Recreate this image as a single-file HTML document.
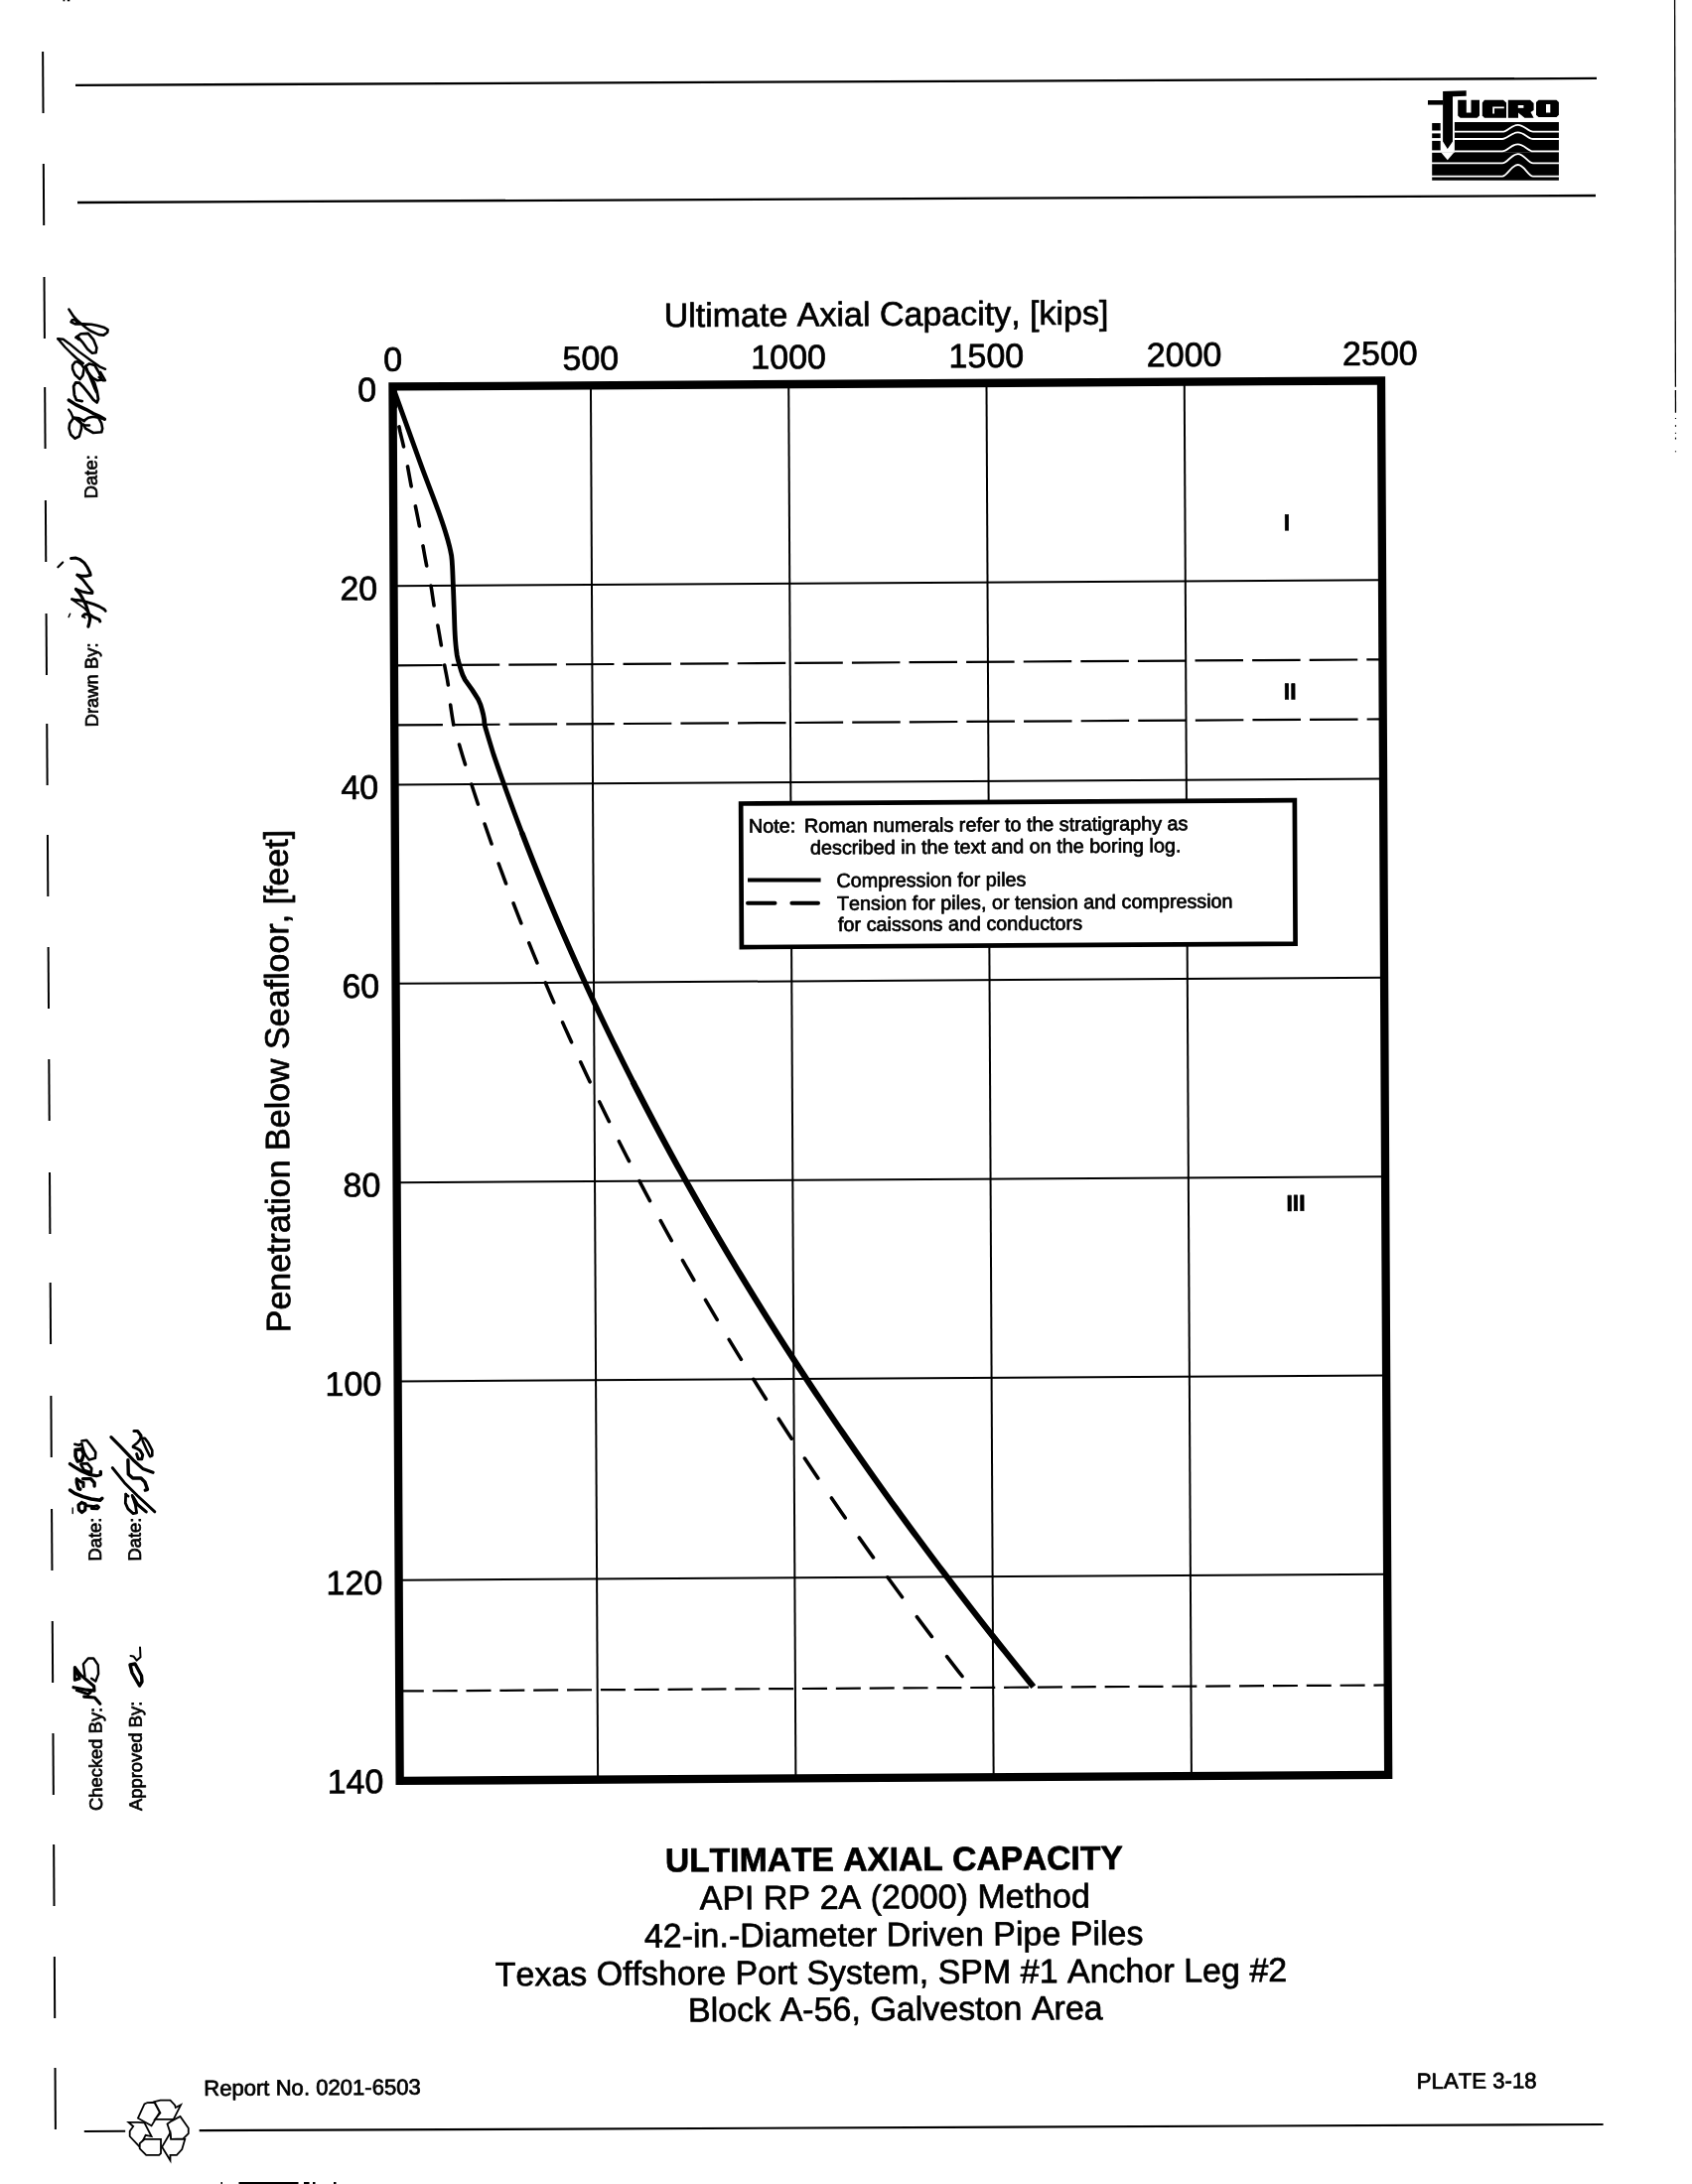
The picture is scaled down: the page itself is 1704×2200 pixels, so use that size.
<!DOCTYPE html>
<html><head><meta charset="utf-8"><title>Ultimate Axial Capacity - Plate 3-18</title>
<style>html,body{margin:0;padding:0;background:#fff;width:1704px;height:2200px;overflow:hidden}svg{display:block;will-change:transform;font-family:"Liberation Sans",sans-serif} text{stroke:#000;stroke-width:0.7px;stroke-linejoin:round;font-kerning:none;font-feature-settings:"kern" 0}</style></head><body>
<svg width="1704" height="2200" viewBox="0 0 1704 2200">
<rect x="0" y="0" width="1704" height="2200" fill="#fff"/>
<g stroke="#000" fill="none" stroke-linecap="butt">
<line x1="76" y1="85.8" x2="1608" y2="78.9" stroke-width="2.3"/>
<line x1="78" y1="204" x2="1607" y2="197" stroke-width="2.3"/>
<line x1="1686.6" y1="0" x2="1687.4" y2="389.7" stroke-width="1.3"/>
<line x1="1687.4" y1="393" x2="1687.5" y2="415.8" stroke-width="1.3"/>
<rect x="1686.9" y="421" width="1.2" height="1" fill="#000" stroke="none"/>
<rect x="1686.9" y="428.2" width="1.2" height="1.6" fill="#000" stroke="none"/>
<rect x="1686.9" y="435.8" width="1.2" height="1" fill="#000" stroke="none"/>
<rect x="1686.9" y="440.7" width="1.2" height="1.8" fill="#000" stroke="none"/>
<rect x="1686.9" y="454.3" width="1.2" height="1" fill="#000" stroke="none"/>
<line x1="84.8" y1="2147" x2="126.2" y2="2146.8" stroke-width="2"/>
<line x1="200.7" y1="2146.2" x2="1614.6" y2="2140" stroke-width="2.2"/>
</g>
<rect x="63.5" y="0" width="1.8" height="1.3" fill="#000"/>
<rect x="67.8" y="0" width="2.5" height="1.3" fill="#000"/>
<rect x="222.5" y="2198" width="1.5" height="2" fill="#000"/>
<rect x="240.5" y="2198" width="60" height="2" fill="#000"/>
<rect x="306" y="2198" width="5.5" height="2" fill="#000"/>
<rect x="315" y="2198" width="2.5" height="2" fill="#000"/>
<rect x="336" y="2198" width="2.5" height="2" fill="#000"/>
<g stroke="#000" stroke-width="2" fill="none">
<line x1="43.13" y1="52" x2="43.51" y2="114"/>
<line x1="43.82" y1="165" x2="44.2" y2="227"/>
<line x1="44.51" y1="279" x2="44.89" y2="341"/>
<line x1="45.19" y1="390" x2="45.57" y2="452"/>
<line x1="45.89" y1="504" x2="46.26" y2="566"/>
<line x1="46.58" y1="618" x2="46.96" y2="680"/>
<line x1="47.26" y1="729" x2="47.64" y2="791"/>
<line x1="47.94" y1="841" x2="48.32" y2="903"/>
<line x1="48.63" y1="954" x2="49.01" y2="1016"/>
<line x1="49.32" y1="1067" x2="49.7" y2="1129"/>
<line x1="50.02" y1="1181" x2="50.39" y2="1243"/>
<line x1="50.69" y1="1292" x2="51.07" y2="1354"/>
<line x1="51.39" y1="1406" x2="51.77" y2="1468"/>
<line x1="52.08" y1="1520" x2="52.46" y2="1582"/>
<line x1="52.77" y1="1633" x2="53.15" y2="1695"/>
<line x1="53.46" y1="1746" x2="53.84" y2="1808"/>
<line x1="54.15" y1="1858" x2="54.52" y2="1920"/>
<line x1="54.84" y1="1971" x2="55.21" y2="2033"/>
<line x1="55.52" y1="2083" x2="55.9" y2="2145"/>
</g>
<text x="0" y="0" font-size="18.4" transform="translate(98.8 732.31) rotate(-90.32)">Drawn By:</text>
<text x="0" y="0" font-size="18.4" transform="translate(97.9 502.21) rotate(-90.32)">Date:</text>
<text x="0" y="0" font-size="18.4" transform="translate(103 1824.03) rotate(-90.32)">Checked By:</text>
<text x="0" y="0" font-size="18.4" transform="translate(102 1572.51) rotate(-90.32)">Date:</text>
<text x="0" y="0" font-size="18.4" transform="translate(143.1 1824.04) rotate(-90.32)">Approved By:</text>
<text x="0" y="0" font-size="18.4" transform="translate(141.9 1572.51) rotate(-90.32)">Date:</text>
<g stroke="#000" fill="none" stroke-linecap="round" stroke-linejoin="round">
<path stroke-width="2.2" d="M58.4 571.3 L63.2 566.5"/>
<path stroke-width="3.0" d="M71.5 562.4 L76.5 562.1 L80.7 563.7 L84.8 566.9 L88 571.5 L90.7 577 L91.2 579.3 L87.1 580.2 L82 580.2 L77.9 579.1"/>
<path stroke-width="2.8" d="M77.9 579.3 L83.4 583.9 L88 589.9 L93 595.8 L93 597.6 L88 597.2 L82.5 595.8 L76.5 593.5"/>
<path stroke-width="3.2" d="M76.5 593.5 L80.7 598.6 L83.4 603.1 L86.6 609.6 L88.9 616.4 L90.7 623.3 L89.8 627.9 L88.9 631.1"/>
<path stroke-width="2.8" d="M72.4 603.6 L77 604.5 L81.6 605 L87.1 606.3 L94.4 608.6 L99.9 610.9 L104.9 613.7 L106.3 615.5"/>
<path stroke-width="2.0" d="M72.4 603.6 L78.8 608.2 L85.2 612.8 L88.9 616.9"/>
<path stroke-width="3.0" d="M83.4 620.6 L85.2 618.7 L89.8 618.7 L93.9 621.5 L99.9 624.2 L100.8 626"/>
<path stroke-width="1.8" d="M83.4 620.6 L85.6 622.4"/>
<path stroke-width="1.6" d="M69.2 621.5 L70.6 618.3"/>
<path stroke-width="2.6" d="M69.4 311.6 L74 318.6 L78.1 323.1 L82.2 326.4 L87.1 330.5 L92.1 333.8 L99.5 337.1 L104.4 337.6 L108.2 334.7 L108.6 332.2 L104.4 329.7 L98.3 328.1 L92.1 326.8 L83.8 326.4 L75.6 326.4 L71.5 324.4 L72.7 322.3 L75.6 322.3 L78.1 324.8"/>
<path stroke-width="2.6" d="M76.4 340 L81.4 336.3 L88.8 335.9 L94.1 342.1 L97.4 350.3 L96.6 355.3 L92.9 355.7 L88 351.6 L83 344.6 L79.7 340.8 L76.4 340"/>
<path stroke-width="3.5" d="M77.5 339.5 L79.5 341.5"/>
<path stroke-width="2.4" d="M58.3 341.3 L63.7 341.7 L69.8 346.2 L79.7 354.4 L92.1 363.5 L100.3 369.3 L106.1 371.8"/>
<path stroke-width="2.4" d="M58.3 341.3 L65.3 349.5 L72.3 356.5 L77.2 361 L83.8 366"/>
<path stroke-width="2.6" d="M75.6 364.7 L73.1 368 L73.1 371.7 L75.6 377.5 L80.5 382 L83.4 378.3 L84.7 370.9 L81.8 366.8 L78.1 364.3 L75.6 364.7"/>
<path stroke-width="2.6" d="M86.3 368.9 L90 366.4 L95.4 368 L99.5 375 L102.8 382.5 L98.3 383.3 L93.7 380.8 L88 375 L86.3 368.9"/>
<path stroke-width="2.6" d="M86.3 368.9 L92.1 383.3 L95.4 391.5 L97 395"/>
<path stroke-width="2.2" d="M101.1 374.6 L104.4 380.4 L106.1 383.3 L103.6 383.3 L99.5 380"/>
<path stroke-width="2.8" d="M82.7 404.1 L77 403 L74.9 398 L74.1 389.2 L76.3 385.3 L79.8 385.6 L83.4 389.2 L88.7 395.6 L94 402.7 L97.6 405.5 L99 402 L97.6 393.8 L95.1 385.6 L92.2 380.3 L88.7 375"/>
<path stroke-width="3.4" d="M69.2 403 L76.3 407.6 L86.9 412.6 L94 416.5 L99.7 419 L105.4 422.2"/>
<path stroke-width="2.4" d="M69.2 412.6 L71.3 415.4 L73.4 420.4"/>
<path stroke-width="2.6" d="M73.8 421.5 L70.2 426.4 L69.5 431.7 L71.3 437.8 L75.6 441.7 L79.8 439.5 L82 431.7 L82 426.4 L78.4 421.5 L73.8 421.5"/>
<path stroke-width="2.6" d="M84.4 423.9 L89 420.7 L94 419.7 L99 420.7 L102.2 426.4 L103.2 431.7 L102.2 435.3 L94 436 L86.2 431.7 L84.1 427.5"/>
<path stroke-width="2.4" d="M76.3 422.2 L83.4 428.2 L90.1 428.5"/>
<path stroke-width="2.6" d="M73.8 420.5 L79.8 421.3 L85 424.2"/>
<path stroke-width="2.4" d="M100 420.8 L105.5 422.3"/>
<path stroke-width="3" d="M75.3 1679.6 L75.3 1692.3 L80.2 1690.7 Z"/>
<path stroke-width="3.2" d="M75.7 1680 L81.4 1687.4 L94.6 1698.5 L95 1703.1 L87.2 1702.2 L74 1699.7"/>
<path stroke-width="3" d="M77.3 1702.7 L88.8 1706.7 L91.3 1704.3"/>
<path stroke-width="3.2" d="M84.7 1709.2 L95.4 1710 L100.8 1716.2"/>
<path stroke-width="2.4" d="M85.5 1688.6 L83.9 1676.3 L88.8 1670.5 L94.2 1670.5 L98.7 1677.1 L99.1 1686.1 L96.3 1693.6 L92.1 1690.7"/>
<path stroke-width="3.2" d="M82.3 1513.5 L86 1515 L85.8 1521 L82.5 1523.5 L79.5 1521 L79 1516 L82.3 1513.5"/>
<path stroke-width="2.8" d="M87.2 1516.6 L93.8 1517.5 L98 1516.6 L99.6 1518.3 L98 1519.9 L92.2 1519.5"/>
<path stroke-width="1.4" d="M73.2 1519 L73.2 1524.5"/>
<path stroke-width="3.4" d="M70.4 1501 L75.3 1504.3 L83.5 1507.6 L91.8 1510 L100.8 1511.3 L102.9 1509.2"/>
<path stroke-width="3.6" d="M77.4 1490 L77.4 1493.6 L79 1499.3 L80.7 1500.2"/>
<path stroke-width="3.2" d="M77.4 1490 L81.5 1492.7 L84 1493.6 L84 1497.5"/>
<path stroke-width="3.4" d="M83.5 1489.6 L91.4 1489.6 L95.1 1493.6 L95.1 1497"/>
<path stroke-width="3.4" d="M70.4 1474.6 L75.3 1477.9 L82.3 1482 L89.7 1485.3 L97.1 1486.6 L101.3 1485.3 L101.3 1482.4"/>
<path stroke-width="2.8" d="M81.5 1474.6 L88.1 1474.2 L92.2 1479.1 L91.8 1483.3 L84.8 1481.2 L81.5 1475.4"/>
<path stroke-width="3.6" d="M76.1 1460.6 L82.3 1459.8 L84.4 1464.7 L82.3 1471.3 L78.2 1472.1 L76.1 1466.8 L76.1 1460.6"/>
<path stroke-width="2.6" d="M82.3 1451.5 L87.2 1450.7 L91.8 1456.5 L96.3 1463.1 L95.9 1468.8 L89.7 1470.5 L86.8 1466.8 L84.8 1463.1 L82.3 1454.4"/>
<path stroke-width="2.6" d="M75.3 1454.8 L79.4 1455.7 L82.3 1454.4"/>
<path stroke-width="3.4" d="M131 1677 L136 1676 L142.5 1688 L143 1694 L140.5 1698 L133 1685 Z"/>
<path stroke-width="2" d="M131.5 1667.9 L134.4 1668.4 L137.7 1672.6 L141.5 1669.3 L141 1659.4"/>
<path stroke-width="2.8" d="M126.7 1505.1 L126.3 1514.2 L128.9 1519.9 L134.1 1524.6 L137.6 1523.8 L136.3 1515.5 L134.1 1509 L133.2 1506.4"/>
<path stroke-width="3.2" d="M134.1 1508.1 L138.5 1515.5 L147.2 1522.9"/>
<path stroke-width="2.4" d="M126.7 1505.1 L129.3 1507.2"/>
<path stroke-width="2.8" d="M113.2 1478.5 L125.4 1493.7 L138.5 1506.8 L155.9 1522.9"/>
<path stroke-width="3.4" d="M128.9 1470.7 L129.3 1485 L133.7 1489 L142 1489 L145.9 1492.9 L148.5 1500.3 L146.3 1501.1"/>
<path stroke-width="3.2" d="M111.9 1447.6 L121.1 1456.8 L134.1 1470.7 L143.7 1479.4 L154.1 1483.3"/>
<path stroke-width="3.0" d="M137.6 1464.6 L139.3 1469.8 L142.8 1469.8 L143.7 1465.5 L141.1 1461.1 L138.5 1459.4 L134.1 1457.6"/>
<path stroke-width="2.6" d="M134.1 1456.8 L138.5 1453.3 L141.9 1448.9 L145.9 1448.9 L149.3 1453.3 L153.3 1461.1 L153.3 1466.3 L151.1 1467.2 L147.2 1459.4 L143.7 1451.5"/>
<path stroke-width="3.2" d="M135 1441.5 L138.5 1441.5 L141.9 1445.9 L141.9 1448.9"/>
</g>
<g id="logo">
<rect x="1464.9" y="123" width="105" height="30.8" fill="#000"/>
<rect x="1442.2" y="153.8" width="127.7" height="27.9" fill="#000"/>
<rect x="1442.2" y="124" width="8.5" height="7.5" fill="#000"/>
<rect x="1442.2" y="134.4" width="8.5" height="4.7" fill="#000"/>
<rect x="1442.2" y="141.9" width="8.5" height="9.5" fill="#000"/>
<path d="M1451.2 153.6 L1457.8 161.3 L1464.4 153.6 Z" fill="#fff"/>
<path d="M1464.9 132.7 L1513 132.7 C1518 132.7 1522 125.9 1528.7 125.9 C1535 125.9 1539 132.7 1544 132.7 L1571 132.7" stroke="#fff" stroke-width="1.8" fill="none"/>
<path d="M1464.9 140.0 L1513 140.0 C1518 140.0 1522 133.4 1528.7 133.4 C1535 133.4 1539 140.0 1544 140.0 L1571 140.0" stroke="#fff" stroke-width="1.8" fill="none"/>
<path d="M1464.9 152.4 L1513 152.4 C1518 152.4 1522 145.3 1528.7 145.3 C1535 145.3 1539 152.4 1544 152.4 L1571 152.4" stroke="#fff" stroke-width="1.8" fill="none"/>
<path d="M1441 164.4 L1513 164.4 C1518 164.4 1522 155.1 1528.7 155.1 C1535 155.1 1539 164.4 1544 164.4 L1571 164.4" stroke="#fff" stroke-width="1.8" fill="none"/>
<path d="M1441 177.6 L1513 177.6 C1518 177.6 1522 166 1528.7 166 C1535 166 1539 177.6 1544 177.6 L1571 177.6" stroke="#fff" stroke-width="1.8" fill="none"/>
<path d="M1453.1 92 L1476.7 91.3 L1476.7 96.8 L1463 97.2 L1463 142.4 L1457.8 150 L1453.1 142.4 Z" fill="#000"/>
<rect x="1438" y="101" width="15.5" height="4.6" fill="#000"/>
<path d="M1468.2 100.8 L1476.8 100.8 L1476.8 113.5 L1481.5 113.5 L1481.5 100.8 L1490 100.8 L1490 116.5 L1487.5 118.8 L1470.7 118.8 L1468.2 116.5 Z" fill="#000"/>
<path d="M1495 100.8 L1514 100.8 L1517 103.5 L1517 118.8 L1495 118.8 L1492.8 116.5 L1492.8 103.5 Z" fill="#000"/>
<path d="M1503.2 107.5 L1514.8 107.5 L1514.8 109.2 L1505 109.2 L1505 114.5 L1503.2 114.5 Z" fill="#fff"/>
<path d="M1518.8 100.8 L1541 100.8 L1544.6 104 L1544.6 111 L1541.5 113 L1544.6 118.8 L1535.5 118.8 L1529 113.5 L1529 118.8 L1518.8 118.8 Z" fill="#000"/>
<rect x="1528.8" y="106" width="5.6" height="2.8" fill="#fff"/>
<path d="M1549.5 100.8 L1567.5 100.8 L1569.9 103 L1569.9 115.8 L1567.5 118 L1549.5 118 L1547 115.8 L1547 103 Z" fill="#000"/>
<rect x="1557" y="105" width="4.3" height="8.5" fill="#fff"/>
</g>
<g transform="matrix(1 -0.006 0.0051 1 395.7 389.87)">
<g stroke="#000" stroke-width="2" fill="none">
<line x1="199.26" y1="0" x2="199.26" y2="1402.2"/>
<line x1="398.53" y1="0" x2="398.53" y2="1402.2"/>
<line x1="597.79" y1="0" x2="597.79" y2="1402.2"/>
<line x1="797.06" y1="0" x2="797.06" y2="1402.2"/>
<line x1="0" y1="200.31" x2="994.3" y2="200.31"/>
<line x1="0" y1="400.63" x2="994.3" y2="400.63"/>
<line x1="0" y1="600.94" x2="994.3" y2="600.94"/>
<line x1="0" y1="801.26" x2="994.3" y2="801.26"/>
<line x1="0" y1="1001.57" x2="994.3" y2="1001.57"/>
<line x1="0" y1="1201.88" x2="994.3" y2="1201.88"/>
</g>
<g stroke="#000" stroke-width="2.2" fill="none">
<line x1="0" y1="280.44" x2="994.3" y2="280.44" stroke-dasharray="48.5 9.1"/>
<line x1="0" y1="340.53" x2="994.3" y2="340.53" stroke-dasharray="48.5 9.1"/>
<line x1="0" y1="1313.56" x2="994.3" y2="1313.56" stroke-dasharray="25 8.85" stroke-dashoffset="0.6"/>
</g>
<rect x="348.3" y="421.7" width="557.7" height="144.6" fill="#fff" stroke="#000" stroke-width="4.7"/>
<polyline points="0,0 1.78,5.01 3.55,10.02 5.33,15.02 7.11,20.03 8.88,25.04 10.66,30.05 12.44,35.05 14.21,40.06 15.99,45.07 17.76,50.08 19.54,55.09 21.32,60.09 23.09,65.1 24.87,70.11 26.65,75.12 28.44,80.13 30.27,85.13 32.13,90.14 34,95.15 35.87,100.16 37.75,105.16 39.62,110.17 41.48,115.18 43.3,120.19 45.1,125.2 46.85,130.2 48.56,135.21 50.21,140.22 51.79,145.23 53.29,150.24 54.73,155.24 56.02,160.25 57.13,165.26 58.11,170.27 58.61,175.27 58.91,180.28 59.14,185.29 59.32,190.3 59.48,195.31 59.66,200.31 59.84,205.32 60.01,210.33 60.16,215.34 60.32,220.35 60.47,225.35 60.62,230.36 60.75,235.37 60.88,240.38 61.05,245.38 61.28,250.39 61.59,255.4 62,260.41 62.51,265.42 63.14,270.42 64.21,275.43 65.58,280.44 67.02,285.45 68.75,290.46 71.16,295.46 74.7,300.47 78.24,305.48 81.43,310.49 84.47,315.49 86.62,320.5 88.07,325.51 89.31,330.52 90.19,335.53 90.52,340.53 91.97,345.54 93.43,350.55 94.91,355.56 96.4,360.57 97.9,365.57 99.41,370.58 101.1,375.59 102.81,380.6 104.53,385.6 106.26,390.61 108.01,395.62 109.77,400.63 111.53,405.64 113.32,410.64 115.11,415.65 116.92,420.66 118.74,425.67 120.57,430.68 122.42,435.68 124.27,440.69 126.14,445.7 128.02,450.71" fill="none" stroke="#000" stroke-width="4.8" stroke-linejoin="round" stroke-linecap="round"/>
<polyline points="128.02,450.71 129.92,455.71 131.83,460.72 133.75,465.73 135.68,470.74 137.62,475.75 139.58,480.75 141.55,485.76 143.53,490.77 145.53,495.78 147.53,500.79 149.55,505.79 151.58,510.8 153.63,515.81 155.69,520.82 157.75,525.82 159.84,530.83 161.93,535.84 164.04,540.85 166.16,545.86 168.29,550.86 170.43,555.87 172.59,560.88 174.76,565.89 176.94,570.89 179.14,575.9 181.34,580.91 183.56,585.92 185.79,590.93 188.04,595.93 190.3,600.94 192.56,605.95 194.85,610.96 197.14,615.97 199.45,620.97 201.77,625.98 204.1,630.99 206.44,636 208.8,641 211.17,646.01 213.55,651.02 215.95,656.03 218.35,661.04 220.77,666.04 223.2,671.05 225.65,676.06 228.1,681.07 230.57,686.08 233.05,691.08 235.55,696.09 238.06,701.1" fill="none" stroke="#000" stroke-width="5.5" stroke-linejoin="round" stroke-linecap="round"/>
<polyline points="238.06,701.1 240.57,706.11 243.11,711.11 245.65,716.12 248.21,721.13 250.78,726.14 253.36,731.15 255.95,736.15 258.56,741.16 261.18,746.17 263.81,751.18 266.45,756.19 269.11,761.19 271.78,766.2 274.46,771.21 277.15,776.22 279.86,781.22 282.58,786.23 285.31,791.24 288.05,796.25 290.81,801.26 293.58,806.26 296.36,811.27 299.16,816.28 301.96,821.29 304.78,826.3 307.61,831.3 310.46,836.31 313.31,841.32 316.18,846.33 319.06,851.33 321.96,856.34 324.86,861.35 327.78,866.36 330.71,871.37 333.66,876.37 336.61,881.38 339.58,886.39 342.56,891.4 345.56,896.41 348.56,901.41 351.58,906.42 354.61,911.43 357.66,916.44 360.71,921.44 363.78,926.45 366.86,931.46 369.96,936.47 373.06,941.48 376.18,946.48 379.31,951.49 382.46,956.5 385.61,961.51 388.78,966.52 391.96,971.52 395.16,976.53 398.36,981.54 401.58,986.55 404.81,991.55 408.06,996.56 411.31,1001.57 414.58,1006.58 417.86,1011.59 421.16,1016.59 424.46,1021.6 427.78,1026.61 431.11,1031.62 434.45,1036.62 437.81,1041.63 441.18,1046.64 444.56,1051.65 447.95,1056.66 451.36,1061.66 454.78,1066.67 458.21,1071.68 461.65,1076.69 465.11,1081.7 468.58,1086.7 472.06,1091.71 475.55,1096.72 479.06,1101.73 482.58,1106.73 486.11,1111.74 489.65,1116.75 493.21,1121.76 496.77,1126.77 500.35,1131.77 503.95,1136.78 507.55,1141.79 511.17,1146.8 514.8,1151.81 518.45,1156.81 522.1,1161.82 525.77,1166.83 529.45,1171.84 533.14,1176.84 536.85,1181.85 540.57,1186.86 544.3,1191.87 548.04,1196.88 551.8,1201.88 555.57,1206.89 559.35,1211.9 563.14,1216.91 566.95,1221.92 570.76,1226.92 574.59,1231.93 578.44,1236.94 582.29,1241.95 586.16,1246.95 590.04,1251.96 593.93,1256.97 597.84,1261.98 601.76,1266.99 605.69,1271.99 609.63,1277 613.59,1282.01 617.56,1287.02 621.54,1292.03 625.53,1297.03 629.54,1302.04 633.55,1307.05 637.58,1312.06 638.39,1313.06" fill="none" stroke="#000" stroke-width="6.1" stroke-linejoin="round" stroke-linecap="butt"/>
<path d="M0 0 L0.54 5.01 L1.16 10.02 L1.84 15.02 L2.58 20.03 M6.01 40.06 L7.03 45.07 L8.19 50.08 L9.38 55.09 L10.5 60.09 M14.4 80.13 L15.3 85.13 L16.18 90.14 L17.06 95.15 L17.98 100.16 M22.07 120.19 L23.07 125.2 L24.06 130.2 L25.03 135.21 L25.97 140.22 M29.47 160.25 L30.35 165.26 L31.22 170.27 L32.11 175.27 L33.05 180.28 M37.27 200.31 L38.07 205.32 L38.78 210.33 L39.48 215.34 L40.25 220.35 M43.95 240.38 L44.82 245.38 L45.67 250.39 L46.5 255.4 L47.33 260.41 M50.55 280.44 L51.46 285.45 L52.42 290.46 L53.35 295.46 L54.13 300.47 M56.32 320.5 L56.99 325.51 L57.72 330.52 L58.5 335.53 L59.34 340.53 M64.95 360.57 L66.39 365.57 L67.84 370.58 L69.35 375.59 L70.88 380.6 M77.11 400.63 L78.69 405.64 L80.3 410.64 L81.91 415.65 L83.54 420.66 M90.17 440.69 L91.86 445.7 L93.56 450.71 L95.28 455.71 L97 460.72 M104.04 480.75 L105.83 485.76 L107.64 490.77 L109.45 495.78 L111.28 500.79 M118.72 520.82 L120.61 525.82 L122.52 530.83 L124.44 535.84 L126.37 540.85 M134.21 560.88 L136.21 565.89 L138.21 570.89 L140.23 575.9 L142.26 580.91 M150.51 600.94 L152.61 605.95 L154.71 610.96 L156.83 615.97 L158.96 620.97 M167.62 641 L169.81 646.01 L172.02 651.02 L174.24 656.03 L176.48 661.04 M185.54 681.07 L187.83 686.08 L190.14 691.08 L192.46 696.09 L194.8 701.1 M204.26 721.13 L206.66 726.14 L209.07 731.15 L211.49 736.15 L213.93 741.16 M223.8 761.19 L226.29 766.2 L228.81 771.21 L231.33 776.22 L233.87 781.22 M244.14 801.26 L246.74 806.26 L249.35 811.27 L251.98 816.28 L254.61 821.29 M265.29 841.32 L267.99 846.33 L270.71 851.33 L273.43 856.34 L276.17 861.35 M287.25 881.38 L290.06 886.39 L292.87 891.4 L295.7 896.41 L298.54 901.41 M310.02 921.44 L312.93 926.45 L315.84 931.46 L318.77 936.47 L321.71 941.48 M333.6 961.51 L336.61 966.52 L339.62 971.52 L342.65 976.53 L345.69 981.54 M357.99 1001.57 L361.1 1006.58 L364.21 1011.59 L367.34 1016.59 L370.49 1021.6 M383.19 1041.63 L386.39 1046.64 L389.61 1051.65 L392.84 1056.66 L396.09 1061.66 M409.19 1081.7 L412.5 1086.7 L415.82 1091.71 L419.15 1096.72 L422.5 1101.73 M436.01 1121.76 L439.42 1126.77 L442.84 1131.77 L446.27 1136.78 L449.72 1141.79 M463.63 1161.82 L467.14 1166.83 L470.66 1171.84 L474.2 1176.84 L477.74 1181.85 M492.06 1201.88 L495.67 1206.89 L499.3 1211.9 L502.93 1216.91 L506.58 1221.92 M521.3 1241.95 L525.02 1246.95 L528.74 1251.96 L532.48 1256.97 L536.23 1261.98 M551.35 1282.01 L555.17 1287.02 L558.99 1292.03 L562.83 1297.03 L566.68 1302.04" fill="none" stroke="#000" stroke-width="3.6" stroke-linecap="round"/>
<rect x="-0.2" y="-0.4" width="995.5" height="1404.4" fill="none" stroke="#000" stroke-width="8.3"/>
<g font-size="34" fill="#000">
<text x="0" y="-16.2" text-anchor="middle">0</text>
<text x="199.26" y="-16.2" text-anchor="middle">500</text>
<text x="398.53" y="-16.2" text-anchor="middle">1000</text>
<text x="597.79" y="-16.2" text-anchor="middle">1500</text>
<text x="797.06" y="-16.2" text-anchor="middle">2000</text>
<text x="994.3" y="-16.2" text-anchor="middle">2500</text>
<text x="-35.48" y="14.1">0</text>
<text x="-54.39" y="214.41">20</text>
<text x="-54.39" y="414.73">40</text>
<text x="-54.39" y="615.04">60</text>
<text x="-54.39" y="815.36">80</text>
<text x="-73.3" y="1015.67">100</text>
<text x="-73.3" y="1215.98">120</text>
<text x="-73.3" y="1416.3">140</text>
</g>
<text x="497.15" y="-58.9" font-size="34" text-anchor="middle">Ultimate Axial Capacity, [kips]</text>
<text x="0" y="0" font-size="34" text-anchor="middle" transform="translate(-108.3 698.5) rotate(-90)">Penetration Below Seafloor, [feet]</text>
<text x="356.08" y="451.07" font-size="19.75">Note:</text>
<text x="411.98" y="451.1" font-size="19.75">Roman numerals refer to the stratigraphy as</text>
<text x="417.96" y="473.24" font-size="19.75">described in the text and on the boring log.</text>
<text x="444.21" y="506.5" font-size="19.75">Compression for piles</text>
<text x="444.66" y="529.6" font-size="19.75">Tension for piles, or tension and compression</text>
<text x="445.61" y="550.8" font-size="19.75">for caissons and conductors</text>
<line x1="354.76" y1="498.86" x2="428.35" y2="499.3" stroke="#000" stroke-width="4"/>
<line x1="354.64" y1="521.96" x2="382.14" y2="522.12" stroke="#000" stroke-width="4" stroke-linecap="round"/>
<line x1="399.04" y1="522.22" x2="425.64" y2="522.38" stroke="#000" stroke-width="4" stroke-linecap="round"/>
<text x="896.3" y="149.81" font-size="23" font-weight="bold">I</text>
<text x="895.43" y="320" font-size="23" font-weight="bold">II</text>
<text x="895.5" y="835.4" font-size="23" font-weight="bold">III</text>
</g>
<text x="670.08" y="1885.5" font-size="33.6" font-weight="bold" transform="rotate(-0.32 670.08 1885.5)">ULTIMATE AXIAL CAPACITY</text>
<text x="704.73" y="1923.6" font-size="34" transform="rotate(-0.32 704.73 1923.6)">API RP 2A (2000) Method</text>
<text x="648.92" y="1961.7" font-size="34" transform="rotate(-0.32 648.92 1961.7)">42-in.-Diameter Driven Pipe Piles</text>
<text x="498.74" y="2000.4" font-size="34" transform="rotate(-0.32 498.74 2000.4)">Texas Offshore Port System, SPM #1 Anchor Leg #2</text>
<text x="693.11" y="2036.4" font-size="34" transform="rotate(-0.32 693.11 2036.4)">Block A-56, Galveston Area</text>
<text x="205.19" y="2111" font-size="22.1" transform="rotate(-0.32 205.19 2111)">Report No. 0201-6503</text>
<text x="1426.78" y="2104" font-size="22.2" transform="rotate(-0.32 1426.78 2104)">PLATE 3-18</text>
<g fill="#fff" stroke="#000" stroke-width="1.8" stroke-linejoin="miter">
<polygon points="138.96,2133.69 145.46,2119.5 148.42,2118.03 155.51,2117.73 160.83,2127.78 152.55,2141.37"/>
<polygon points="155.51,2117.14 161.42,2115.66 171.47,2115.66 176.19,2120.69 176.78,2123.05 182.1,2120.39 174.72,2134.87 156.1,2134.87 161.42,2128.37"/>
<polygon points="129.5,2137.83 138.96,2137.83 145.46,2138.42 152.55,2152.01 146.64,2150.83 140.73,2162.65 130.69,2152.01 130.69,2146.69 134.23,2141.96"/>
<polygon points="145.46,2154.96 162.01,2154.96 162.01,2169.15 160.24,2170.92 147.23,2170.92 140.73,2164.42 140.73,2159.1"/>
<polygon points="168.51,2139.6 172.65,2136.64 181.51,2131.91 189.79,2143.74 189.79,2149.05 184.47,2154.37 172.06,2154.96 171.47,2148.46"/>
<polygon points="163.19,2162.65 171.47,2148.46 172.06,2154.96 186.24,2154.96 183.29,2165.01 177.97,2170.92 171.47,2170.92 171.47,2176.24"/>
</g>
</svg></body></html>
